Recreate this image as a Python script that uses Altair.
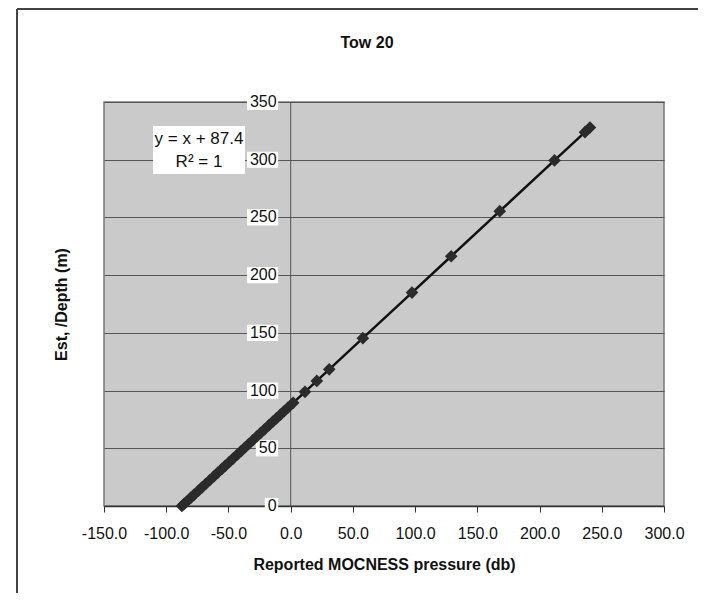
import altair as alt
import pandas as pd

# ---- data ----
pressure = [-87.4, -85.6, -83.1, -80.2, -77.5, -74.1, -71.0, -68.3, -64.9, -61.8,
            -58.7, -55.2, -52.6, -49.4, -46.1, -43.0, -39.8, -36.5, -33.7, -30.4,
            -27.2, -24.1, -20.9, -17.6, -14.3, -11.5, -8.2, -5.3, -2.4, 2.0,
            11.5, 21.0, 31.0, 58.0, 97.5, 129.0, 168.0, 212.0, 236.5, 240.5]
depth = [0.0, 1.8, 4.3, 7.2, 9.9, 13.3, 16.4, 19.1, 22.5, 25.6,
         28.7, 32.2, 34.8, 38.0, 41.3, 44.4, 47.6, 50.9, 53.7, 57.0,
         60.2, 63.3, 66.5, 69.8, 73.1, 75.9, 79.2, 82.1, 85.0, 89.4,
         98.9, 108.4, 118.4, 145.4, 184.9, 216.4, 255.4, 299.4, 323.9, 327.9]
y_ticks = [0, 50, 100, 150, 200, 250, 300, 350]
x_ticks = [-150, -100, -50, 0, 50, 100, 150, 200, 250, 300]
title_text = "Tow 20"
x_title = "Reported MOCNESS pressure (db)"
y_title = "Est, /Depth (m)"
eq_lines = ["y = x + 87.4", "R\u00b2 = 1"]

# ---- style ----
W, H = 560, 404
FONT = "Liberation Sans"
PX_PER_X = W / 450.0

df = pd.DataFrame({"p": pressure, "d": depth})
tick_df = pd.DataFrame({"v": y_ticks, "lab": [str(v) for v in y_ticks]})
one = pd.DataFrame({"k": [0]})

xs = alt.Scale(domain=[-150, 300], nice=False, zero=False)
ys = alt.Scale(domain=[0, 350], nice=False, zero=False)

x_axis = alt.Axis(values=x_ticks, grid=False,
                  labelExpr="replace(format(datum.value, '.1f'), '\u2212', '-')",
                  domainColor="#333333", domainWidth=1.5,
                  tickColor="#333333", tickSize=6, tickWidth=1,
                  labelFont=FONT, labelFontSize=16, labelColor="#111111",
                  labelPadding=13, labelFlush=False, labelOverlap=False,
                  title=x_title, titleFont=FONT, titleFontSize=16,
                  titleFontWeight="bold", titleColor="#111111",
                  titleY=58, titleBaseline="middle", titleAlign="center")
y_axis = alt.Axis(values=y_ticks, grid=True, gridColor="#555555", gridWidth=1,
                  domain=False, ticks=False, labels=False,
                  title=y_title, titleFont=FONT, titleFontSize=16,
                  titleFontWeight="bold", titleColor="#111111",
                  titleX=-43, titleY=H / 2, titleAngle=270,
                  titleAlign="center", titleBaseline="middle")

# frame of the chart area
frame_left = alt.Chart(one).mark_rule(color="#444444", strokeWidth=2).encode(
    x=alt.value(-87), y=alt.value(-93), y2=alt.value(500))
frame_top = alt.Chart(one).mark_rule(color="#444444", strokeWidth=2).encode(
    x=alt.value(-87), x2=alt.value(600), y=alt.value(-93))

# chart title
title_mark = alt.Chart(one).mark_text(font=FONT, fontSize=16, fontWeight="bold",
                                      color="#111111", align="center",
                                      baseline="middle").encode(
    x=alt.value(263), y=alt.value(-59), text=alt.value(title_text))

# the y axis line at x = 0
zero_line = alt.Chart(one).mark_rule(color="#555555", strokeWidth=1).encode(
    x=alt.X(datum=0, scale=xs, axis=x_axis),
    y=alt.value(0), y2=alt.value(H))

# y tick labels with white boxes (sitting left of the x = 0 line)
lab_base = alt.Chart(tick_df).transform_calculate(
    xt=f"{-14 / PX_PER_X}",
    xl=f"{-14 / PX_PER_X} - (length(datum.lab) * 8.9 + 3) / {PX_PER_X}",
    xr=f"{-12.5 / PX_PER_X}",
    y0="datum.v - 7",
    y1="datum.v + 7",
)
lab_boxes = lab_base.mark_rect(color="white").encode(
    x=alt.X("xl:Q", scale=xs, axis=x_axis), x2="xr:Q",
    y=alt.Y("y0:Q", scale=ys, axis=y_axis), y2="y1:Q")
lab_text = lab_base.mark_text(align="right", baseline="middle", font=FONT,
                              fontSize=16, color="#111111").encode(
    x=alt.X("xt:Q", scale=xs, axis=x_axis),
    y=alt.Y("v:Q", scale=ys, axis=y_axis),
    text="lab:N")

line = alt.Chart(df).mark_line(color="#111111", strokeWidth=2.5).encode(
    x=alt.X("p:Q", scale=xs, axis=x_axis),
    y=alt.Y("d:Q", scale=ys, axis=y_axis),
    order="p:Q")
points = alt.Chart(df).mark_point(shape="diamond", filled=True, size=160,
                                  color="#2b2b2b", opacity=1).encode(
    x=alt.X("p:Q", scale=xs, axis=x_axis),
    y=alt.Y("d:Q", scale=ys, axis=y_axis))

# equation label
eq_box = alt.Chart(one).mark_rect(color="white").encode(
    x=alt.value(49), x2=alt.value(141), y=alt.value(24), y2=alt.value(72))
eq1 = alt.Chart(one).mark_text(font=FONT, fontSize=17, color="#111111",
                               align="center", baseline="middle").encode(
    x=alt.value(95), y=alt.value(37), text=alt.value(eq_lines[0]))
eq2 = alt.Chart(one).mark_text(font=FONT, fontSize=17, color="#111111",
                               align="center", baseline="middle").encode(
    x=alt.value(95), y=alt.value(60), text=alt.value(eq_lines[1]))

chart = alt.layer(
    frame_left, frame_top, title_mark, zero_line, lab_boxes, lab_text, line,
    points, eq_box, eq1, eq2,
).properties(
    width=W, height=H,
    autosize=alt.AutoSizeParams(type="none"),
    padding={"left": 96, "top": 94, "right": 34, "bottom": 87},
).configure(background="white").configure_view(
    fill="#cacaca", stroke="#7a7a7a", strokeWidth=1.5)

chart.save("out.html", embed_options={"renderer": "svg", "actions": False})
